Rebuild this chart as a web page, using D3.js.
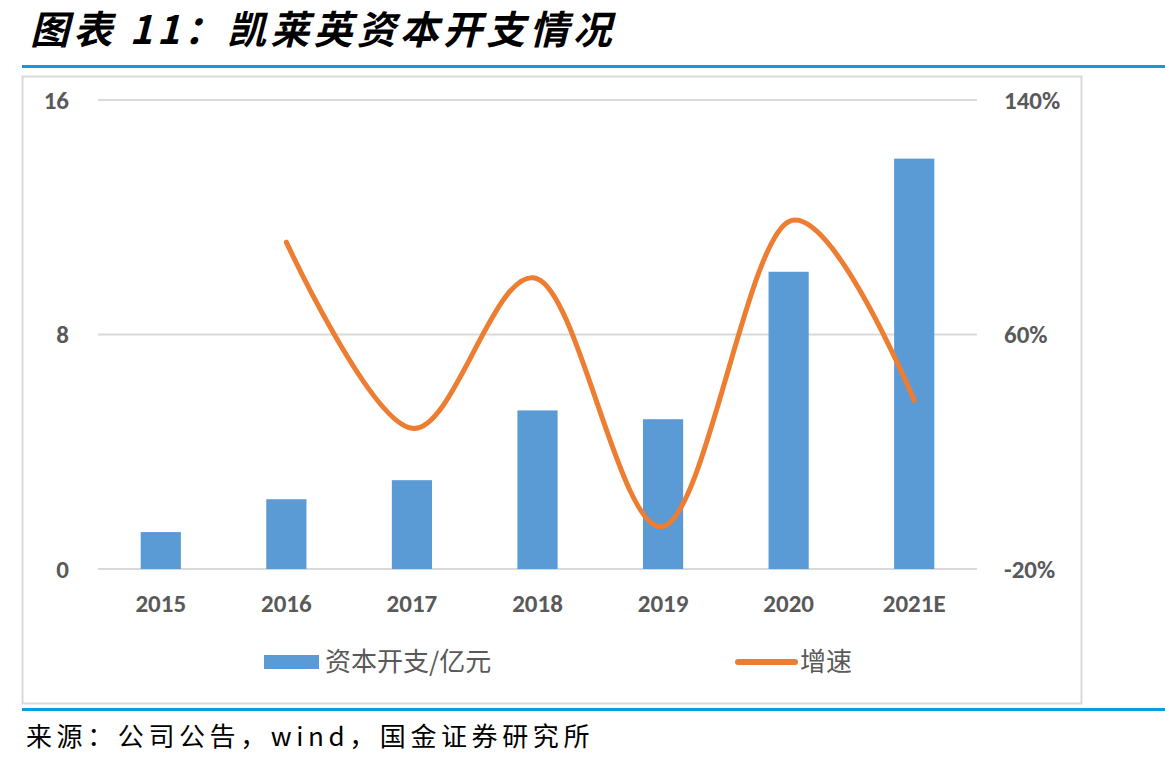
<!DOCTYPE html>
<html>
<head>
<meta charset="utf-8">
<script src="https://cdn.jsdelivr.net/npm/d3@7"></script>
<style>
  html, body { margin: 0; padding: 0; background: #fff; }
  svg { display: block; }
</style>
</head>
<body>
<svg id="chart" width="1165" height="766"></svg>
<script>
// ── Data ──────────────────────────────────────────────────────────────────
var years   = ['2015', '2016', '2017', '2018', '2019', '2020', '2021E'];
var capex   = [1.26, 2.38, 3.03, 5.41, 5.11, 10.14, 14.0];     // 亿元
var growth  = [null, 91.5, 28, 79, -5.5, 98.5, 37.5];            // %
var leftTicks  = [0, 8, 16];
var rightTicks = [-20, 60, 140];

var BLUE = '#5B9BD5', ORANGE = '#ED7D31', GRID = '#D9D9D9', LABEL = '#595959';
var CJK = '"Noto Sans CJK SC", "Noto Sans", sans-serif';
var LAT = 'Calibri, Carlito, Lato, "Open Sans", sans-serif';

var svg = d3.select('#chart');

// ── Title & frame ─────────────────────────────────────────────────────────
svg.append('text')
  .attr('x', 30).attr('y', 44)
  .attr('font-family', CJK).attr('font-size', 39).attr('font-weight', 'bold')
  .attr('font-style', 'italic').attr('letter-spacing', 4.2).attr('fill', '#000')
  .text('图表 11：凯莱英资本开支情况');

svg.append('rect').attr('x', 22).attr('y', 65).attr('width', 1143).attr('height', 3).attr('fill', '#0B9BE0');
svg.append('rect').attr('x', 22.5).attr('y', 76.5).attr('width', 1059).attr('height', 627)
  .attr('fill', '#fff').attr('stroke', GRID).attr('stroke-width', 2);
svg.append('rect').attr('x', 22).attr('y', 708).attr('width', 1143).attr('height', 3).attr('fill', '#0B9BE0');

svg.append('text')
  .attr('x', 26).attr('y', 746)
  .attr('font-family', CJK).attr('font-size', 26).attr('letter-spacing', 4.6).attr('fill', '#000')
  .text('来源：公司公告，wind，国金证券研究所');

// ── Scales ────────────────────────────────────────────────────────────────
var x = d3.scaleBand().domain(years).range([98, 977]).paddingInner(0.68).paddingOuter(0.34);
var yL = d3.scaleLinear().domain([0, 16]).range([569, 100]);
var yR = d3.scaleLinear().domain([-20, 140]).range([569, 100]);

// gridlines
svg.append('g').selectAll('line').data(leftTicks).join('line')
  .attr('x1', 98).attr('x2', 977)
  .attr('y1', function (d) { return yL(d); }).attr('y2', function (d) { return yL(d); })
  .attr('stroke', GRID).attr('stroke-width', 2);

function styleAxis(g) {
  g.select('.domain').remove();
  g.selectAll('text').attr('font-family', LAT).attr('font-size', 25)
    .attr('font-weight', 'bold').attr('fill', LABEL);
}

// left axis labels
svg.append('g').attr('transform', 'translate(69,0)')
  .call(d3.axisLeft(yL).tickValues(leftTicks).tickSize(0).tickPadding(0))
  .call(styleAxis);

// right axis labels
svg.append('g').attr('transform', 'translate(1004,0)')
  .call(d3.axisRight(yR).tickValues(rightTicks).tickSize(0).tickPadding(0)
    .tickFormat(function (d) { return d + '%'; }))
  .call(styleAxis);

// x axis labels
svg.append('g').attr('transform', 'translate(0,569)')
  .call(d3.axisBottom(x).tickSize(0).tickPadding(25))
  .call(styleAxis);

// ── Bars ──────────────────────────────────────────────────────────────────
svg.append('g').selectAll('rect').data(capex).join('rect')
  .attr('x', function (d, i) { return x(years[i]); })
  .attr('width', x.bandwidth())
  .attr('y', function (d) { return yL(d); })
  .attr('height', function (d) { return yL(0) - yL(d); })
  .attr('fill', BLUE);

// ── Growth line ───────────────────────────────────────────────────────────
var pts = years.map(function (y, i) { return { year: y, v: growth[i] }; })
  .filter(function (d) { return d.v !== null; });
var line = d3.line()
  .x(function (d) { return x(d.year) + x.bandwidth() / 2; })
  .y(function (d) { return yR(d.v); })
  .curve(d3.curveCardinal.tension(0));
svg.append('path').datum(pts)
  .attr('d', line).attr('fill', 'none')
  .attr('stroke', ORANGE).attr('stroke-width', 5).attr('stroke-linecap', 'round');

// ── Legend ────────────────────────────────────────────────────────────────
svg.append('rect').attr('x', 264).attr('y', 655).attr('width', 55).attr('height', 14).attr('fill', BLUE);
svg.append('text').attr('x', 325).attr('y', 671)
  .attr('font-family', CJK).attr('font-size', 26).attr('fill', LABEL).text('资本开支/亿元');
svg.append('line').attr('x1', 738).attr('x2', 795).attr('y1', 662).attr('y2', 662)
  .attr('stroke', ORANGE).attr('stroke-width', 6).attr('stroke-linecap', 'round');
svg.append('text').attr('x', 800).attr('y', 671)
  .attr('font-family', CJK).attr('font-size', 26).attr('fill', LABEL).text('增速');
</script>
</body>
</html>
